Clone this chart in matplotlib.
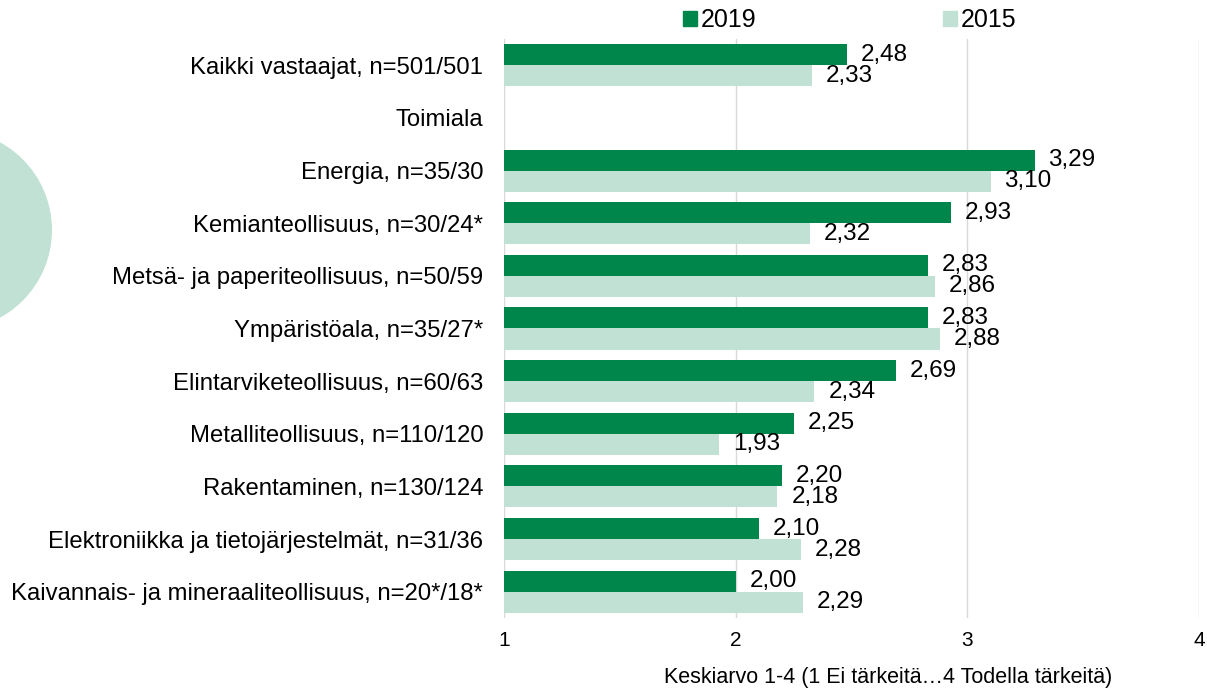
import matplotlib
matplotlib.use("Agg")
import matplotlib.pyplot as plt
from matplotlib.patches import Circle, Patch

plt.rcParams['font.family'] = ['Liberation Sans', 'DejaVu Sans']

categories = [
    "Kaikki vastaajat, n=501/501",
    "Toimiala",
    "Energia, n=35/30",
    "Kemianteollisuus, n=30/24*",
    "Metsä- ja paperiteollisuus, n=50/59",
    "Ympäristöala, n=35/27*",
    "Elintarviketeollisuus, n=60/63",
    "Metalliteollisuus, n=110/120",
    "Rakentaminen, n=130/124",
    "Elektroniikka ja tietojärjestelmät, n=31/36",
    "Kaivannais- ja mineraaliteollisuus, n=20*/18*",
]
values_2019 = [2.48, None, 3.29, 2.93, 2.83, 2.83, 2.69, 2.25, 2.20, 2.10, 2.00]
values_2015 = [2.33, None, 3.10, 2.32, 2.86, 2.88, 2.34, 1.93, 2.18, 2.28, 2.29]
series_names = ["2019", "2015"]
xticks = [1, 2, 3, 4]
xlabel = "Keskiarvo 1-4 (1 Ei tärkeitä…4 Todella tärkeitä)"

c2019 = "#00854a"
c2015 = "#c0e1d3"

fig = plt.figure(figsize=(12.07, 6.89), dpi=100)
ax = fig.add_axes([504/1207, 1 - 618/689, (1199-504)/1207, (618-39)/689])

# decorative circle (inches)
circ = Circle((-0.48, (689 - 230) / 100), 1.0, transform=fig.dpi_scale_trans,
              facecolor=c2015, edgecolor='none', zorder=0)
fig.patches.append(circ)

h = 0.4
fs = 17.2
for i, (a, b) in enumerate(zip(values_2019, values_2015)):
    if a is not None:
        ax.barh(i - h/2, a - 1, left=1, height=h, color=c2019, zorder=3)
        ax.annotate(f"{a:.2f}".replace('.', ','), (a, i - h/2), xytext=(10, 0),
                    textcoords='offset points', va='center', ha='left', fontsize=17.5)
    if b is not None:
        ax.barh(i + h/2, b - 1, left=1, height=h, color=c2015, zorder=3)
        ax.annotate(f"{b:.2f}".replace('.', ','), (b, i + h/2), xytext=(10, 0),
                    textcoords='offset points', va='center', ha='left', fontsize=17.5)

ax.set_xlim(1, 4)
ax.set_ylim(len(categories) - 0.5, -0.5)
ax.set_yticks(range(len(categories)))
ax.set_yticklabels(categories, fontsize=fs)
ax.set_xticks(xticks)
ax.set_xticklabels([str(t) for t in xticks], fontsize=15)
ax.tick_params(axis='y', length=0, pad=15)
ax.tick_params(axis='x', length=0, pad=9)
for s in ax.spines.values():
    s.set_visible(False)
ax.grid(axis='x', color='#d9d9d9', linewidth=1, zorder=0)
ax.set_axisbelow(True)
ax.set_xlabel(xlabel, fontsize=15.5)
ax.xaxis.set_label_coords(0.553, -0.102)
ax.xaxis.label.set_va('center')

handles = [Patch(color=c2019), Patch(color=c2015)]
fig.legend(handles, series_names, loc='center', bbox_to_anchor=(0.704, 1 - 20/689),
           ncol=2, frameon=False, fontsize=18, handlelength=0.55, handleheight=0.55,
           handletextpad=0.15, columnspacing=7.5)

fig.savefig("out.png", dpi=100)
